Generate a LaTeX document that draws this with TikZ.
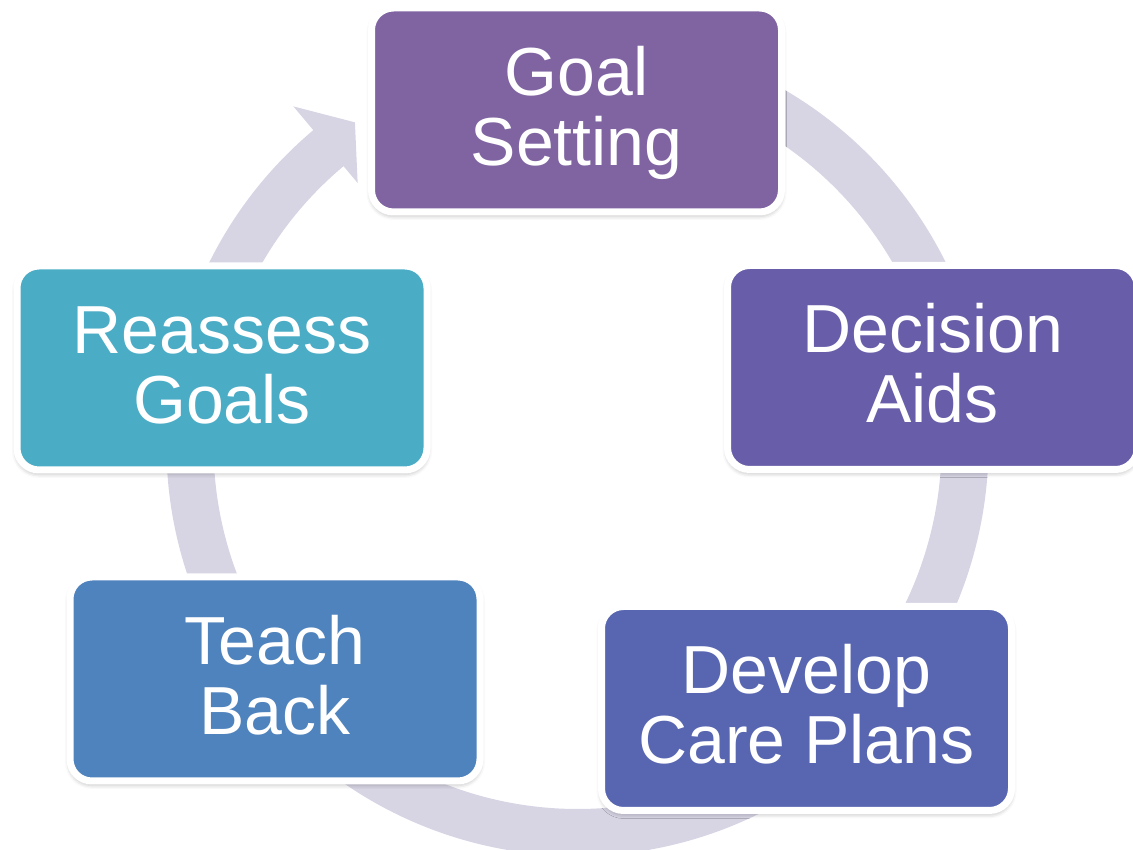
\documentclass[tikz,border=0pt]{standalone}
\usepackage{fontspec}
\setmainfont{Liberation Sans}
\usetikzlibrary{shadows.blur}
\definecolor{ringcol}{HTML}{D7D4E4}
\definecolor{cGoal}{HTML}{8064A2}
\definecolor{cDecision}{HTML}{675DA9}
\definecolor{cDevelop}{HTML}{5866B1}
\definecolor{cTeach}{HTML}{4F83BD}
\definecolor{cReassess}{HTML}{4BACC6}
\begin{document}
\begin{tikzpicture}[x=1pt,y=1pt,
  stage/.style={draw=white, line width=7pt, rounded corners=22pt,
    minimum width=410pt, minimum height=204pt, inner sep=0pt,
    text=white, align=center, font=\fontsize{68}{70}\selectfont,
    text height=120pt, text depth=9pt,
    blur shadow={shadow xshift=0pt, shadow yshift=-3pt,
      shadow blur radius=5pt, shadow opacity=35}}]
\useasboundingbox (0,0) rectangle (1133,850);

% circular arrow running clockwise behind the stages
\fill[ringcol, shift={(577.5,405)}]
  (80:411) arc[start angle=80, end angle=-230, radius=411]
  -- (-230:442) -- (-235.4:392) -- (-230:342) -- (-230:364)
  arc[start angle=-230, end angle=80, radius=364] -- cycle;

% the five stages of the cycle
\node[stage, fill=cGoal]     (goal)     at (576.5,740)   {Goal\\Setting};
\node[stage, fill=cDecision] (decision) at (932.5,482.5) {Decision\\Aids};
\node[stage, fill=cDevelop]  (develop)  at (806.5,141.5) {Develop\\Care Plans};
\node[stage, fill=cTeach]    (teach)    at (275,171)     {Teach\\Back};
\node[stage, fill=cReassess] (reassess) at (222,482)     {Reassess\\Goals};
\end{tikzpicture}
\end{document}
